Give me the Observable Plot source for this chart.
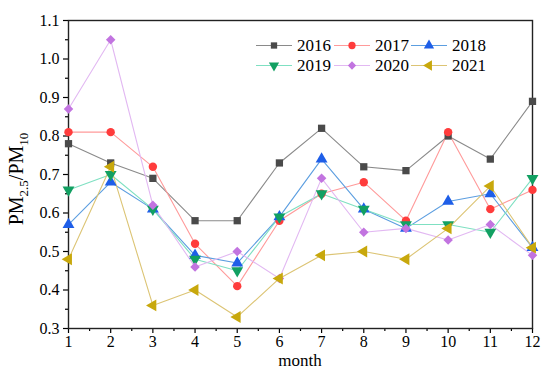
<!DOCTYPE html>
<html>
<head>
<meta charset="utf-8">
<script src="https://cdn.jsdelivr.net/npm/d3@7"></script>
<script src="https://cdn.jsdelivr.net/npm/@observablehq/plot@0.6"></script>
<style>
  html, body { margin: 0; padding: 0; background: #fff; }
  #chart { width: 550px; height: 377px; }
  #chart svg, #chart svg text { font-family: "Liberation Serif", "Times New Roman", serif !important; }
</style>
</head>
<body>
<div id="chart"></div>
<script>
const months = [1, 2, 3, 4, 5, 6, 7, 8, 9, 10, 11, 12];
const series = ["2016", "2017", "2018", "2019", "2020", "2021"];
const v2016 = [0.78, 0.73, 0.69, 0.58, 0.58, 0.73, 0.82, 0.72, 0.71, 0.80, 0.74, 0.89];
const v2017 = [0.81, 0.81, 0.72, 0.52, 0.41, 0.58, 0.65, 0.68, 0.58, 0.81, 0.61, 0.66];
const v2018 = [0.57, 0.68, 0.61, 0.49, 0.47, 0.59, 0.74, 0.61, 0.56, 0.63, 0.65, 0.51];
const v2019 = [0.66, 0.70, 0.61, 0.48, 0.45, 0.59, 0.65, 0.61, 0.57, 0.57, 0.55, 0.69];
const v2020 = [0.87, 1.05, 0.62, 0.46, 0.50, 0.43, 0.69, 0.55, 0.56, 0.53, 0.57, 0.49];
const v2021 = [0.48, 0.72, 0.36, 0.40, 0.33, 0.43, 0.49, 0.50, 0.48, 0.56, 0.67, 0.51];
const seriesValues = [v2016, v2017, v2018, v2019, v2020, v2021];
const yTicks = [0.3, 0.4, 0.5, 0.6, 0.7, 0.8, 0.9, 1.0, 1.1];
const yMinor = [0.35, 0.45, 0.55, 0.65, 0.75, 0.85, 0.95, 1.05];
const xMinor = [1.5, 2.5, 3.5, 4.5, 5.5, 6.5, 7.5, 8.5, 9.5, 10.5, 11.5];

const markerColors = ["#4a4a4a", "#ff3c3c", "#1e5ee8", "#12a062", "#c274e0", "#c8a80c"];
const lineColors   = ["#8a8a8a", "#ff9a9a", "#5c9ee0", "#7fe0c2", "#e2b8f2", "#dcc474"];
const symbols      = ["square", "circle", "triangle", "triangle", "diamond2", "triangle"];
const rotations    = [0, 0, 0, 180, 0, -90];
const radii        = [4.1, 4.2, 4.4, 4.4, 4.3, 4.4];
const d3Symbols    = [d3.symbolSquare, d3.symbolCircle, d3.symbolTriangle, d3.symbolTriangle, d3.symbolDiamond2, d3.symbolTriangle];

const data = series.flatMap((s, i) => months.map((m, j) => ({series: s, month: m, value: seriesValues[i][j]})));

const font = "Liberation Serif, Times New Roman, serif";
const marks = [
  Plot.axisY({ticks: yTicks, tickSize: 5, tickPadding: 4, tickFormat: d3.format(".1f"), label: null, stroke: "#000", strokeWidth: 1.2}),
  Plot.axisY({ticks: yMinor, tickSize: 3, tickFormat: () => "", label: null, stroke: "#000", strokeWidth: 1.2}),
  Plot.axisX({ticks: months, tickSize: 5, tickPadding: 2, tickFormat: d => String(d), label: null, stroke: "#000", strokeWidth: 1.2}),
  Plot.axisX({ticks: xMinor, tickSize: 3, tickFormat: () => "", label: null, stroke: "#000", strokeWidth: 1.2}),
  Plot.frame({stroke: "#222", strokeWidth: 1.4})
];
series.forEach((s, i) => {
  const sub = data.filter(d => d.series === s);
  marks.push(Plot.line(sub, {x: "month", y: "value", stroke: lineColors[i], strokeWidth: 1.1}));
});
series.forEach((s, i) => {
  const sub = data.filter(d => d.series === s);
  marks.push(Plot.dot(sub, {x: "month", y: "value", symbol: symbols[i], rotate: rotations[i], r: radii[i], fill: markerColors[i], stroke: "none"}));
});

const chart = Plot.plot({
  width: 550,
  height: 377,
  marginLeft: 68,
  marginRight: 18,
  marginTop: 20,
  marginBottom: 49,
  style: {fontFamily: font, fontSize: "16px", color: "#000", background: "#fff", overflow: "visible"},
  x: {domain: [1, 12]},
  y: {domain: [0.3, 1.1]},
  marks
});
document.getElementById("chart").appendChild(chart);

const svg = d3.select(chart);
svg.attr("font-family", font).attr("font-size", 16);
// axis titles
svg.append("text")
  .attr("x", 300).attr("y", 366)
  .attr("text-anchor", "middle")
  .attr("font-family", font).attr("font-size", 17).attr("fill", "#000")
  .text("month");
const yl = svg.append("text")
  .attr("transform", "translate(23,179) rotate(-90)")
  .attr("text-anchor", "middle")
  .attr("font-family", font).attr("font-size", 20).attr("fill", "#000");
yl.append("tspan").text("PM");
yl.append("tspan").attr("dy", 5).attr("font-size", 13).text("2.5");
yl.append("tspan").attr("dy", -5).text("/PM");
yl.append("tspan").attr("dy", 5).attr("font-size", 13).text("10");

// legend
const colX = [256, 334, 411];
const rowY = [45.5, 65.5];
const lg = svg.append("g").attr("text-anchor", "start");
series.forEach((s, i) => {
  const x = colX[i % 3], y = rowY[Math.floor(i / 3)];
  const g = lg.append("g").attr("transform", `translate(${x},${y})`);
  g.append("line").attr("x1", 0).attr("x2", 36).attr("y1", 0).attr("y2", 0)
    .attr("stroke", lineColors[i]).attr("stroke-width", 1.2);
  g.append("path")
    .attr("d", d3.symbol(d3Symbols[i], Math.PI * radii[i] * radii[i] * 0.75)())
    .attr("transform", `translate(18,0) rotate(${rotations[i]})`)
    .attr("fill", markerColors[i]);
  g.append("text").attr("x", 41).attr("y", 0).attr("dy", "0.35em")
    .attr("text-anchor", "start")
    .attr("font-family", font).attr("font-size", 17).attr("fill", "#000")
    .text(s);
});
</script>
</body>
</html>
